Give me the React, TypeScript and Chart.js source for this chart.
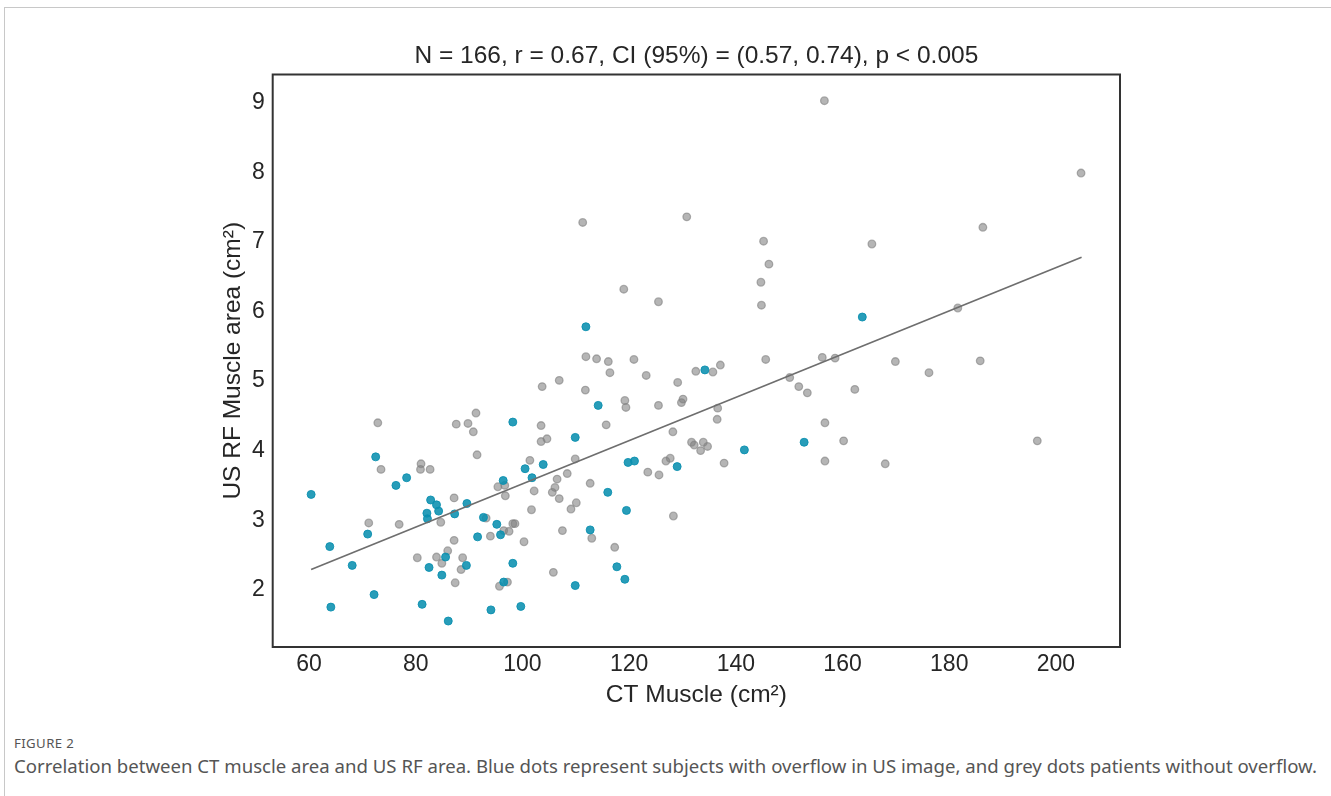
import React, { useEffect, useRef } from 'react';
import { Chart, registerables } from 'chart.js';

Chart.register(...registerables);

// Grey dots: patients without overflow
const greyX = [
  156.6, 111.3, 130.8, 145.2, 146.2, 144.7, 144.8, 119.0, 125.5, 111.9,
  113.9, 116.1, 120.9, 137.1, 145.6, 156.2, 158.6, 204.7, 186.3, 165.5,
  181.6, 169.9, 185.8, 72.9, 73.5, 81.0, 80.9, 82.7, 87.6, 89.8,
  90.8, 87.2, 84.7, 71.2, 76.9, 87.2, 86.0, 80.3, 83.9, 84.9,
  88.8, 88.5, 87.4, 116.4, 123.2, 106.9, 103.7, 111.8, 119.2, 119.4,
  125.5, 91.3, 103.5, 115.7, 104.6, 103.5, 91.5, 101.4, 109.9, 126.9,
  123.5, 125.6, 108.4, 106.5, 95.4, 96.7, 112.7, 106.1, 105.6, 102.2,
  96.8, 106.9, 110.1, 109.1, 101.7, 93.2, 98.2, 98.6, 96.5, 97.5,
  94.0, 107.5, 113.0, 100.3, 117.3, 105.8, 97.2, 95.7, 132.5, 135.7,
  129.1, 150.1, 151.8, 153.4, 162.3, 130.1, 129.8, 136.6, 136.5, 128.2,
  156.7, 160.2, 131.7, 132.2, 133.9, 134.7, 133.4, 127.7, 137.8, 156.7,
  128.3, 176.2, 196.5, 168.0,
];
const greyY = [
  9.03, 7.28, 7.36, 7.01, 6.68, 6.42, 6.09, 6.32, 6.14, 5.35,
  5.32, 5.28, 5.31, 5.23, 5.31, 5.34, 5.33, 7.99, 7.21, 6.97,
  6.05, 5.28, 5.29, 4.40, 3.73, 3.81, 3.73, 3.73, 4.38, 4.39,
  4.27, 3.32, 2.97, 2.96, 2.94, 2.71, 2.56, 2.46, 2.47, 2.38,
  2.46, 2.29, 2.10, 5.12, 5.08, 5.01, 4.92, 4.87, 4.72, 4.62,
  4.65, 4.54, 4.36, 4.37, 4.17, 4.13, 3.94, 3.86, 3.88, 3.85,
  3.69, 3.65, 3.67, 3.59, 3.48, 3.50, 3.53, 3.47, 3.40, 3.42,
  3.35, 3.31, 3.25, 3.16, 3.15, 3.03, 2.95, 2.95, 2.85, 2.84,
  2.77, 2.85, 2.74, 2.69, 2.61, 2.25, 2.11, 2.05, 5.14, 5.13,
  4.98, 5.05, 4.92, 4.83, 4.88, 4.74, 4.69, 4.61, 4.45, 4.27,
  4.40, 4.14, 4.12, 4.08, 4.12, 4.06, 4.00, 3.89, 3.82, 3.85,
  3.06, 5.12, 4.14, 3.81,
];

// Blue dots: subjects with overflow in US image
const blueX = [
  111.9, 163.7, 72.5, 78.3, 76.3, 60.4, 89.6, 82.8, 83.9, 84.3,
  82.1, 82.2, 87.3, 71.0, 63.9, 85.6, 89.5, 82.5, 68.1, 84.9,
  72.2, 64.1, 81.2, 86.1, 114.2, 98.2, 109.9, 100.5, 103.9, 119.8,
  121.0, 101.8, 96.4, 116.0, 119.5, 92.7, 95.2, 95.9, 91.6, 112.7,
  98.2, 117.7, 119.2, 96.5, 109.9, 99.7, 94.1, 134.2, 152.8, 141.6,
  129.0,
];
const blueY = [
  5.78, 5.92, 3.91, 3.61, 3.50, 3.37, 3.24, 3.29, 3.22, 3.13,
  3.10, 3.02, 3.09, 2.80, 2.62, 2.47, 2.35, 2.32, 2.35, 2.21,
  1.93, 1.75, 1.79, 1.55, 4.65, 4.41, 4.19, 3.74, 3.80, 3.83,
  3.85, 3.61, 3.57, 3.40, 3.14, 3.04, 2.94, 2.79, 2.76, 2.86,
  2.38, 2.33, 2.15, 2.11, 2.06, 1.76, 1.71, 5.16, 4.12, 4.01,
  3.77,
];

// Regression line end points
const fitX = [60.4, 204.8];
const fitY = [2.29, 6.78];

const xTicks = [60, 80, 100, 120, 140, 160, 180, 200];
const yTicks = [2, 3, 4, 5, 6, 7, 8, 9];

const titleText = 'N = 166, r = 0.67, CI (95%) = (0.57, 0.74), p < 0.005';
const xLabel = 'CT Muscle (cm²)';
const yLabel = 'US RF Muscle area (cm²)';
const figLabel = 'FIGURE 2';
const captionText =
  'Correlation between CT muscle area and US RF area. Blue dots represent subjects with overflow in US image, and grey dots patients without overflow.';

const FONT = "'Liberation Sans', Arial, Helvetica, sans-serif";
const TEXT = '#262626';

const framePlugin = {
  id: 'axesFrame',
  afterDatasetsDraw(chart: any) {
    const { ctx, chartArea } = chart;
    const { left, top, right, bottom } = chartArea;
    ctx.save();
    ctx.strokeStyle = '#333333';
    ctx.lineWidth = 2;
    ctx.strokeRect(left, top, right - left, bottom - top);
    ctx.restore();
  },
};

export default function App() {
  const canvasRef = useRef<HTMLCanvasElement | null>(null);

  useEffect(() => {
    document.body.style.margin = '0';
    const canvas = canvasRef.current;
    if (!canvas) return;
    const chart = new Chart(canvas, {
      type: 'scatter',
      data: {
        datasets: [
          {
            type: 'line',
            label: 'fit',
            data: fitX.map((x, i) => ({ x, y: fitY[i] })),
            borderColor: '#6e6e6e',
            borderWidth: 1.7,
            pointRadius: 0,
            showLine: true,
            fill: false,
            tension: 0,
          },
          {
            label: 'overflow',
            data: blueX.map((x, i) => ({ x, y: blueY[i] })),
            backgroundColor: 'rgba(10,143,175,0.88)',
            borderColor: 'rgba(10,143,175,0.88)',
            borderWidth: 1,
            pointRadius: 4,
          },
          {
            label: 'no overflow',
            data: greyX.map((x, i) => ({ x, y: greyY[i] })),
            backgroundColor: 'rgba(128,128,128,0.58)',
            borderColor: 'rgba(128,128,128,0.6)',
            borderWidth: 1.3,
            pointRadius: 3.8,
          },
        ],
      },
      options: {
        animation: false,
        responsive: false,
        maintainAspectRatio: false,
        devicePixelRatio: 1,
        layout: { padding: { left: 200, right: 211, top: 0, bottom: 0 } },
        plugins: {
          legend: { display: false },
          tooltip: { enabled: false },
          title: {
            display: true,
            text: titleText,
            fullSize: false,
            color: TEXT,
            font: { family: FONT, size: 24.5, weight: 'normal', lineHeight: 1.2 },
            padding: { top: 41.3, bottom: 3.8 },
          },
        },
        scales: {
          x: {
            type: 'linear',
            min: 53.2,
            max: 212.0,
            grid: { display: false, drawTicks: false },
            border: { display: false },
            afterBuildTicks: (scale: any) => {
              scale.ticks = xTicks.map((v) => ({ value: v }));
            },
            afterFit: (scale: any) => {
              scale.height = 73;
            },
            ticks: {
              color: TEXT,
              padding: 4,
              maxRotation: 0,
              autoSkip: false,
              font: { family: FONT, size: 23 },
            },
            title: {
              display: true,
              text: xLabel,
              color: TEXT,
              font: { family: FONT, size: 24.5, lineHeight: 1.2 },
              padding: { top: 0, bottom: 10 },
            },
          },
          y: {
            type: 'linear',
            min: 1.1767,
            max: 9.4066,
            grid: { display: false, drawTicks: false },
            border: { display: false },
            afterBuildTicks: (scale: any) => {
              scale.ticks = yTicks.map((v) => ({ value: v }));
            },
            afterFit: (scale: any) => {
              scale.width = 72.7;
            },
            ticks: {
              color: TEXT,
              padding: 8,
              autoSkip: false,
              font: { family: FONT, size: 23 },
            },
            title: {
              display: true,
              text: yLabel,
              color: TEXT,
              font: { family: FONT, size: 24.5, lineHeight: 1.2 },
              padding: { top: 19, bottom: 0 },
            },
          },
        },
      },
      plugins: [framePlugin],
    });
    return () => chart.destroy();
  }, []);

  return (
    <div
      style={{
        position: 'absolute',
        left: 0,
        top: 0,
        width: 1331,
        height: 796,
        background: '#ffffff',
        overflow: 'hidden',
      }}
    >
      <div
        style={{
          position: 'absolute',
          left: 4,
          top: 7,
          width: 1327,
          height: 789,
          borderTop: '1px solid #c8c8c8',
          borderLeft: '1px solid #c8c8c8',
          boxSizing: 'border-box',
        }}
      />
      <canvas
        ref={canvasRef}
        width={1331}
        height={720}
        style={{ position: 'absolute', left: 0, top: 0, width: 1331, height: 720, display: 'block' }}
      />
      <div
        style={{
          position: 'absolute',
          left: 14,
          top: 733,
          fontFamily: "'Noto Sans', 'Open Sans', sans-serif",
          fontSize: 13.2,
          lineHeight: '20px',
          color: '#555555',
          letterSpacing: 0.4,
          whiteSpace: 'nowrap',
        }}
      >
        {figLabel}
      </div>
      <div
        style={{
          position: 'absolute',
          left: 14,
          top: 753,
          fontFamily: "'Noto Sans', 'Open Sans', sans-serif",
          fontSize: 18.6,
          lineHeight: '26px',
          color: '#555555',
          whiteSpace: 'nowrap',
        }}
      >
        {captionText}
      </div>
    </div>
  );
}
